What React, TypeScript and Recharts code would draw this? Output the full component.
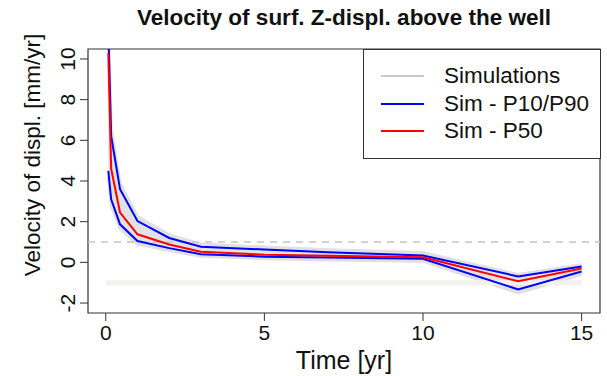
import { Area, ComposedChart, Line, ReferenceArea, ReferenceLine, XAxis, YAxis } from 'recharts';

const TIMES = [0.08, 0.17, 0.45, 1, 2, 3, 5, 7, 10, 13, 15];
const P50 = [10.3, 4.6, 2.45, 1.38, 0.88, 0.52, 0.38, 0.32, 0.25, -0.93, -0.3];
const P90 = [11.5, 6.2, 3.6, 2.03, 1.2, 0.77, 0.63, 0.5, 0.34, -0.69, -0.2];
const P10 = [4.5, 3.1, 1.87, 1.05, 0.7, 0.4, 0.28, 0.24, 0.18, -1.33, -0.45];
const SIM_HI = [12, 6.6, 3.9, 2.25, 1.35, 0.9, 0.75, 0.62, 0.48, -0.6, -0.12];
const SIM_LO = [4.2, 2.8, 1.65, 0.9, 0.58, 0.3, 0.18, 0.12, 0.06, -1.5, -0.6];
const X_TICKS = [0, 5, 10, 15];
const Y_TICKS = [-2, 0, 2, 4, 6, 8, 10];
const LEGEND = [
  { label: 'Simulations', color: '#cbcbc4' },
  { label: 'Sim - P10/P90', color: '#0000ff' },
  { label: 'Sim - P50', color: '#ff0000' },
];

const data = TIMES.map((t, i) => ({
  t,
  p50: P50[i],
  p90: P90[i],
  p10: P10[i],
  band: [SIM_LO[i], SIM_HI[i]],
}));

const FONT = '"Liberation Sans", Arial, sans-serif';
const X_DOMAIN: [number, number] = [-0.56, 15.58];
const Y_DOMAIN: [number, number] = [-2.49, 10.49];

const XTick = ({ x, y, payload }: any) => (
  <text x={x} y={y + 17} textAnchor="middle" fontSize={21} fontFamily={FONT} fill="#111">
    {payload.value}
  </text>
);

const YTick = ({ y, payload }: any) => (
  <text
    x={75}
    y={y}
    transform={`rotate(-90 75 ${y})`}
    textAnchor="middle"
    fontSize={21}
    fontFamily={FONT}
    fill="#111"
  >
    {payload.value}
  </text>
);

export default function App() {
  return (
    <div style={{ position: 'absolute', left: 0, top: 0, width: 607, height: 376, background: '#fff' }}>
      <ComposedChart
        width={607}
        height={376}
        data={data}
        margin={{ top: 49, right: 7, bottom: 0, left: 0 }}
      >
        <XAxis
          dataKey="t"
          type="number"
          domain={X_DOMAIN}
          ticks={X_TICKS}
          allowDataOverflow
          axisLine={false}
          tickLine={{ stroke: '#333' }}
          tickSize={8}
          tick={<XTick />}
          height={63}
        />
        <YAxis
          type="number"
          domain={Y_DOMAIN}
          ticks={Y_TICKS}
          allowDataOverflow
          axisLine={false}
          tickLine={{ stroke: '#333' }}
          tickSize={8}
          tick={<YTick />}
          width={88}
        />
        <ReferenceLine y={1} stroke="#c4c4c4" strokeWidth={1.5} strokeDasharray="7 6" />
        <ReferenceLine
          segment={[{ x: 0, y: -1 }, { x: 15, y: -1 }]}
          stroke="#f1f1ee"
          strokeWidth={5}
        />
        <Area
          dataKey="band"
          stroke="#e0e0e0"
          strokeWidth={3}
          fill="#d8d8d8"
          fillOpacity={0.75}
          isAnimationActive={false}
          dot={false}
          activeDot={false}
        />
        <Line dataKey="p90" stroke="#0000ff" strokeWidth={2} dot={false} isAnimationActive={false} />
        <Line dataKey="p10" stroke="#0000ff" strokeWidth={2} dot={false} isAnimationActive={false} />
        <Line dataKey="p50" stroke="#ff0000" strokeWidth={2} dot={false} isAnimationActive={false} />
        <ReferenceArea
          x1={X_DOMAIN[0]}
          x2={X_DOMAIN[1]}
          y1={Y_DOMAIN[0]}
          y2={Y_DOMAIN[1]}
          fill="none"
          fillOpacity={0}
          stroke="#333"
          strokeWidth={1.2}
          ifOverflow="visible"
        />
      </ComposedChart>
      <svg
        width={607}
        height={376}
        style={{ position: 'absolute', left: 0, top: 0, pointerEvents: 'none' }}
        fontFamily={FONT}
      >
        <text x={344} y={25} textAnchor="middle" fontSize={22.5} fontWeight="bold" fill="#111">
          Velocity of surf. Z-displ. above the well
        </text>
        <text x={344} y={369} textAnchor="middle" fontSize={25} fill="#111">
          Time [yr]
        </text>
        <text
          x={40}
          y={155}
          transform="rotate(-90 40 155)"
          textAnchor="middle"
          fontSize={22.5}
          fill="#111"
        >
          Velocity of displ. [mm/yr]
        </text>
      </svg>
      <div
        style={{
          position: 'absolute',
          left: 363,
          top: 49,
          width: 236,
          height: 108,
          border: '1px solid #333',
          background: '#fff',
          fontFamily: FONT,
          fontSize: 22.5,
          color: '#111',
        }}
      >
        {LEGEND.map((item, i) => (
          <div
            key={item.label}
            style={{ position: 'absolute', left: 0, top: 12 + i * 27.5, height: 28, display: 'flex', alignItems: 'center' }}
          >
            <div style={{ marginLeft: 17, width: 43, height: 2, background: item.color }} />
            <span style={{ marginLeft: 20, whiteSpace: 'nowrap' }}>{item.label}</span>
          </div>
        ))}
      </div>
    </div>
  );
}
